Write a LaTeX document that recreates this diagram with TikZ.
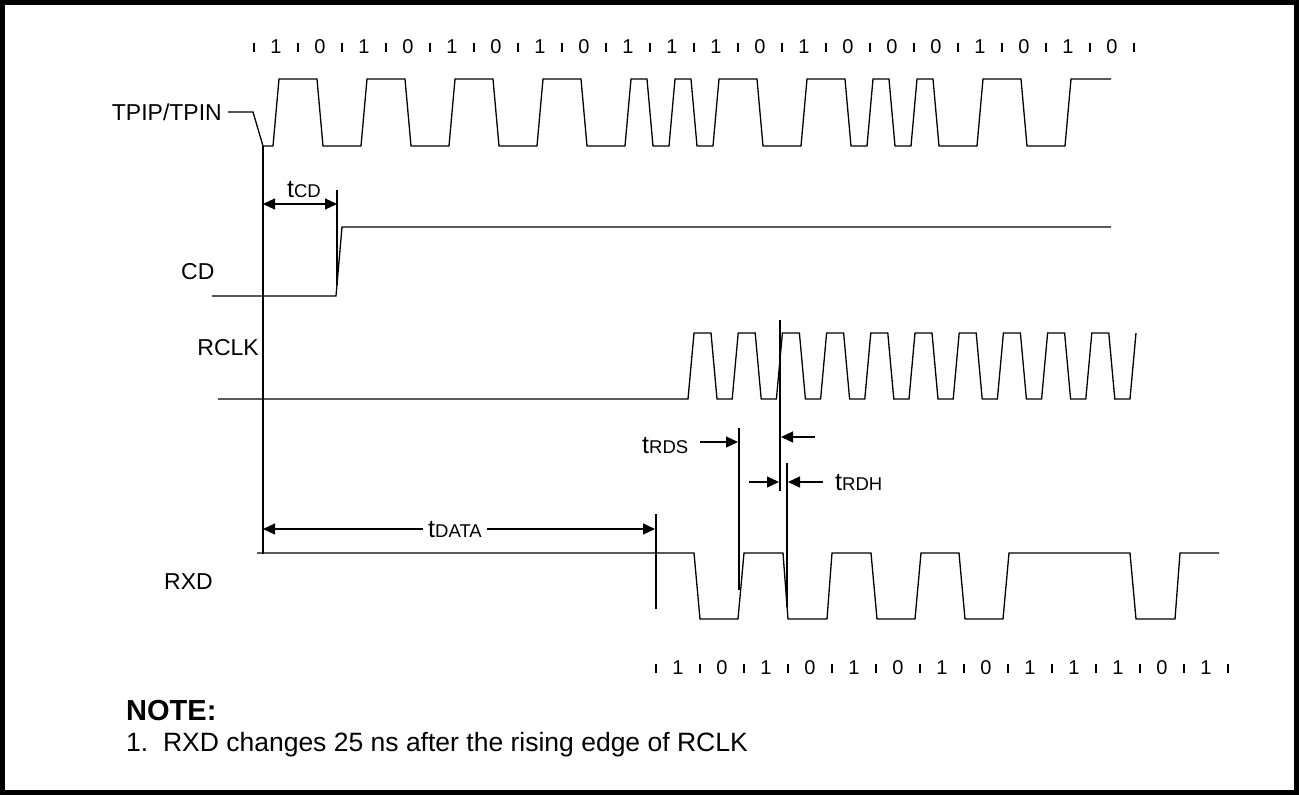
\documentclass[tikz,border=0pt]{standalone}
\usepackage{fontspec}
\setmainfont{Liberation Sans}
\usetikzlibrary{arrows.meta, positioning, calc}
\newcommand{\lblsize}{\fontsize{23pt}{25pt}\selectfont}
\newcommand{\bitsize}{\fontsize{20pt}{22pt}\selectfont}
\newcommand{\tname}[1]{{\fontsize{25pt}{26pt}\selectfont t}{\fontsize{18.5pt}{20pt}\selectfont #1}}

\begin{document}
\begin{tikzpicture}[x=1pt, y=-1pt, font=\lblsize]
    \tikzset{
      sig/.style={line width=1.3pt, line join=miter},
      guide/.style={line width=1.2pt},
      tickmark/.style={line width=1.1pt},
      dim/.style={line width=1.2pt, {Triangle[length=12pt,width=11pt]}-{Triangle[length=12pt,width=11pt]}},
      dimr/.style={line width=1.2pt, -{Triangle[length=12pt,width=11pt]}},
      lbl/.style={inner sep=0pt},
      bit/.style={inner sep=0pt, font=\bitsize}
    }
    \useasboundingbox (0,0) rectangle (1299,795);
    \draw[line width=5pt] (2.5,2.5) rectangle (1296.5,792.5);

    % bit cells, line side
    \foreach \b [count=\i from 0] in {1,0,1,0,1,0,1,0,1,1,1,0,1,0,0,0,1,0,1,0}
      \node[bit] (top\i) at ({276+44*\i},47) {\b};
    \foreach \i in {0,...,20}
      \draw[tickmark] ({254+44*\i},43) -- ({254+44*\i},52);

    % TPIP/TPIN
    \node[lbl, anchor=east] (lblTpip) at (222,112) {TPIP/TPIN};
    \coordinate (tpLow) at (263,146);
    \draw[sig] ([xshift=6pt]lblTpip.east) -- (253,112) -- (tpLow) -- (273,146)
      \foreach \t/\a/\b in {276/146/79, 320/79/146, 364/146/79, 408/79/146,
                            452/146/79, 496/79/146, 540/146/79, 584/79/146,
                            628/146/79, 650/79/146, 672/146/79, 694/79/146,
                            716/146/79, 760/79/146, 804/146/79, 848/79/146,
                            870/146/79, 892/79/146, 914/146/79, 936/79/146,
                            980/146/79, 1024/79/146, 1068/146/79}
        { -- ({\t-3},\a) -- ({\t+3},\b) } -- (1111,79);

    % CD
    \node[lbl, anchor=west] (lblCd) at (181,272) {CD};
    \draw[sig] (212,296) -- (336,296) -- (342,227) -- (1111,227);
    \coordinate (cdTop) at (337,190);
    \coordinate (cdBot) at (337,285);
    \draw[guide] (cdTop) -- (cdBot);
    \draw[dim] (263,204) -- (337,204);
    \node[lbl, anchor=base] (tcd) at (304,197) {\tname{CD}};

    % RCLK
    \node[lbl, anchor=east] (lblRclk) at (259,348) {RCLK};
    \draw[sig] (218,399)
      \foreach \k in {0,...,9}
        { -- ({688+44.2*\k},399) -- ({694+44.2*\k},333) -- ({711+44.2*\k},333) -- ({717+44.2*\k},399) }
      -- (1130,399) -- (1136,333);
    \coordinate (clkTop) at (780,320);
    \coordinate (clkBot) at (780,491);
    \draw[guide] (clkTop) -- (clkBot);

    % setup / hold
    \coordinate (rdsTop) at (739,428);
    \coordinate (rdsBot) at (739,590);
    \draw[guide] (rdsTop) -- (rdsBot);
    \node[lbl, anchor=base west] (trds) at (642,453) {\tname{RDS}};
    \draw[dimr] (700,442) -- (738,442);
    \draw[dimr] (815,437) -- (781,437);
    \coordinate (rdhTop) at (787,463);
    \coordinate (rdhBot) at (787,607);
    \draw[guide] (rdhTop) -- (rdhBot);
    \draw[dimr] (749,482) -- (779,482);
    \draw[dimr] (823,482) -- (788,482);
    \node[lbl, anchor=base west] (trdh) at (835,490) {\tname{RDH}};

    % tDATA
    \coordinate (datTop) at (656,514);
    \coordinate (datBot) at (656,609);
    \draw[guide] (datTop) -- (datBot);
    \draw[dim] (263,529) -- (655,529);
    \node[anchor=base, fill=white, inner xsep=5pt, inner ysep=2pt] (tdata) at (455,537) {\tname{DATA}};
    \draw[guide] (tpLow) -- (263,554);

    % RXD
    \node[lbl, anchor=east] (lblRxd) at (213,582) {RXD};
    \draw[sig] (257,553) -- (694,553) -- (700,619) -- (738,619) -- (744,553)
      -- (783,553) -- (788,619) -- (827,619) -- (832,553) -- (871,553)
      -- (877,619) -- (915,619) -- (921,553) -- (959,553) -- (965,619)
      -- (1003,619) -- (1009,553) -- (1130,553) -- (1136,619) -- (1175,619)
      -- (1180,553) -- (1219,553);

    % bit cells, receive side
    \foreach \b [count=\i from 0] in {1,0,1,0,1,0,1,0,1,1,1,0,1}
      \node[bit] (bot\i) at ({678+44*\i},668) {\b};
    \foreach \i in {0,...,13}
      \draw[tickmark] ({656+44*\i},664) -- ({656+44*\i},673);

    % note
    \node[lbl, anchor=west, font=\bfseries\fontsize{29pt}{31pt}\selectfont] (noteHead) at (126,711) {NOTE:};
    \node[lbl, anchor=west, font=\fontsize{26.5pt}{28pt}\selectfont] (noteText) at (126,745) {1.\ \ RXD changes 25 ns after the rising edge of RCLK};
  \end{tikzpicture}
\end{document}
